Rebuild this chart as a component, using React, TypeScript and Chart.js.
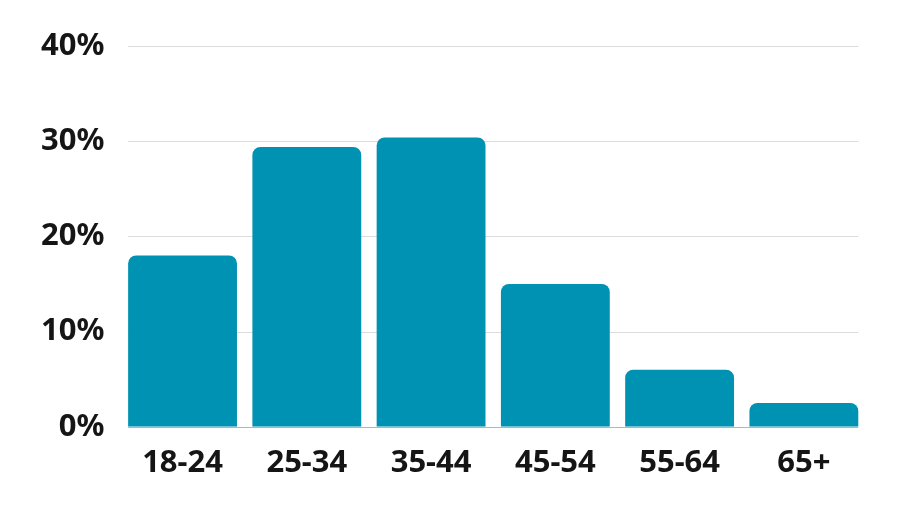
import React, { useEffect, useRef } from "react";
import { Chart, registerables } from "chart.js";

Chart.register(...registerables);

const categories = ["18-24", "25-34", "35-44", "45-54", "55-64", "65+"];
const shares = [18, 29.4, 30.4, 15, 6, 2.5];
const yTicks = [0, 10, 20, 30, 40];

const gridPlugin = {
  id: "barSpanGrid",
  beforeDatasetsDraw(chart: any) {
    const meta = chart.getDatasetMeta(0);
    const els = meta.data;
    if (!els.length) return;
    const first: any = els[0];
    const last: any = els[els.length - 1];
    const x0 = first.x - first.width / 2;
    const x1 = last.x + last.width / 2;
    const y = chart.scales.y;
    const ctx = chart.ctx;
    ctx.save();
    ctx.lineWidth = 1;
    yTicks.forEach((t) => {
      const py = Math.round(y.getPixelForValue(t)) + 0.5;
      ctx.strokeStyle = t === 0 ? "#b5b5b5" : "#dcdcdc";
      ctx.beginPath();
      ctx.moveTo(x0, py);
      ctx.lineTo(x1, py);
      ctx.stroke();
    });
    ctx.restore();
  },
};

export default function App() {
  const ref = useRef<HTMLCanvasElement | null>(null);
  useEffect(() => {
    document.body.style.margin = "0";
    const chart = new Chart(ref.current!, {
      type: "bar",
      data: {
        labels: categories,
        datasets: [
          {
            data: shares,
            backgroundColor: "#0092b3",
            borderRadius: 8,
            borderSkipped: "start",
            barPercentage: 1,
            categoryPercentage: 0.876,
          },
        ],
      },
      options: {
        animation: false,
        responsive: false,
        maintainAspectRatio: false,
        layout: { padding: { top: 46, right: 34, left: 33, bottom: 14 } },
        plugins: { legend: { display: false }, tooltip: { enabled: false } },
        scales: {
          x: {
            grid: { display: false },
            border: { display: false },
            ticks: {
              color: "#151515",
              padding: 10,
              font: { family: "'Noto Sans'", weight: "bold", size: 31 },
            },
          },
          y: {
            min: 0,
            max: 40,
            afterBuildTicks: (axis: any) => {
              axis.ticks = yTicks.map((v) => ({ value: v }));
            },
            grid: { display: false },
            border: { display: false },
            ticks: {
              color: "#151515",
              padding: 8,
              callback: (v: any) => v + "%",
              font: { family: "'Noto Sans'", weight: "bold", size: 31 },
            },
          },
        },
      },
      plugins: [gridPlugin],
    });
    return () => chart.destroy();
  }, []);
  return (
    <div style={{ position: "absolute", left: 0, top: 0, width: 900, height: 506, background: "#fff" }}>
      <canvas ref={ref} width={900} height={506} style={{ width: 900, height: 506 }} />
    </div>
  );
}
